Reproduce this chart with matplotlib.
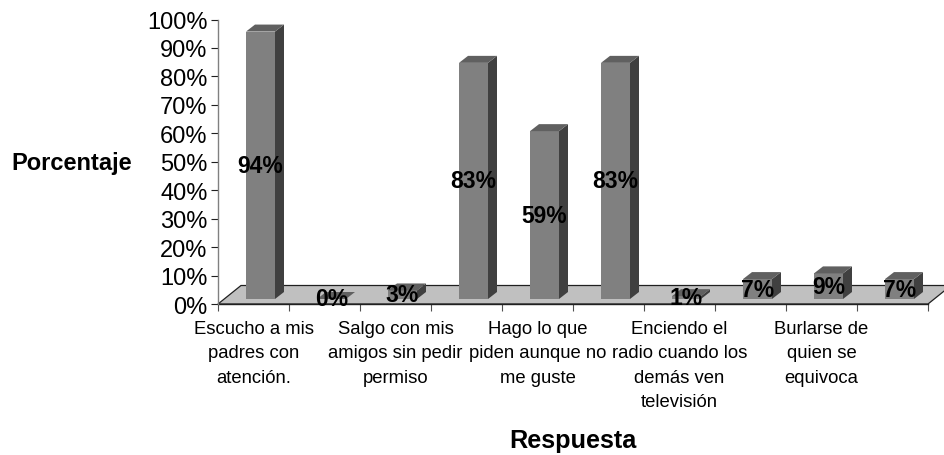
import numpy as np
import matplotlib
matplotlib.use('Agg')
import matplotlib.pyplot as plt

plt.rcParams['font.family'] = ['Liberation Sans', 'DejaVu Sans']

# Data
valores = [94, 0, 3, 83, 59, 83, 1, 7, 9, 7]
categorias = [
    'Escucho a mis\npadres con\natención.', '',
    'Salgo con mis\namigos sin pedir\npermiso', '',
    'Hago lo que\npiden aunque no\nme guste', '',
    'Enciendo el\nradio cuando los\ndemás ven\ntelevisión', '',
    'Burlarse de\nquien se\nequivoca', '',
]
yticks = [0, 10, 20, 30, 40, 50, 60, 70, 80, 90, 100]

W, H = 944, 456
L, R, B, T = 218, 928, 305, 20.5

fig = plt.figure(figsize=(W / 100, H / 100), dpi=100)
ax = fig.add_axes([L / W, 1 - B / H, (R - L) / W, (B - T) / H])
ax.set_xlim(0, 10)
ax.set_ylim(0, 100)

# pixels to data units, for the fake 3D offsets
px_x = 10 / (R - L)
px_y = 100 / (B - T)

# ─── Floor ────────────────────────────────────────────────────────────────────
fdx, fdy = 23 * px_x, 18.5 * px_y
ax.fill([0, 10, 10 + fdx, fdx], [0, 0, fdy, fdy], facecolor='#c0c0c0',
        edgecolor='#202020', linewidth=0.9, clip_on=False, zorder=1)

# ─── Bars ─────────────────────────────────────────────────────────────────────
x = np.arange(len(valores)) + 0.5
ancho = 29 * px_x
centro = x + 7 * px_x
base = 5 * px_y
ddx, ddy = 9 * px_x, 7 * px_y

for xc, v in zip(centro, valores):
    x0, x1 = xc - ancho / 2, xc + ancho / 2
    top = base + v
    ax.bar(xc, v, width=ancho, bottom=base, color='#808080', zorder=3)
    ax.fill([x1, x1 + ddx, x1 + ddx, x1], [base, base + ddy, top + ddy, top],
            color='#404040', linewidth=0, zorder=3, clip_on=False)
    ax.fill([x0, x1, x1 + ddx, x0 + ddx], [top, top, top + ddy, top + ddy],
            color='#606060', linewidth=0, zorder=3, clip_on=False)
    ax.text(xc, base + v / 2, f'{v}%', ha='center', va='center', fontsize=16.5,
            fontweight='bold', color='black', zorder=5, clip_on=False)

# ─── Axes ─────────────────────────────────────────────────────────────────────
for s in ('top', 'right'):
    ax.spines[s].set_visible(False)
ax.spines['left'].set_color('#808080')
ax.spines['left'].set_linewidth(1.0)
ax.spines['bottom'].set_color('#202020')
ax.spines['bottom'].set_linewidth(1.0)
ax.spines['bottom'].set_zorder(2)

ax.set_yticks(yticks)
ax.set_yticklabels([f'{t}%' for t in yticks], fontsize=17)
ax.tick_params(axis='y', length=5, width=0.8, color='#202020', pad=2.5)

ax.set_xticks(np.arange(0, 11))
ax.set_xticklabels([])
ax.tick_params(axis='x', length=5, width=0.8, color='#505050')
ax.set_xticks(x, minor=True)
ax.set_xticklabels(categorias, minor=True, fontsize=13.3, linespacing=1.56)
ax.tick_params(axis='x', which='minor', length=0, pad=11.5)

fig.text(71.5 / W, 1 - 170 / H, 'Porcentaje', ha='center', va='baseline',
         fontsize=17, fontweight='bold')
fig.text(573 / W, 1 - 448 / H, 'Respuesta', ha='center', va='baseline',
         fontsize=18.2, fontweight='bold')

fig.savefig('out.png', dpi=100)
